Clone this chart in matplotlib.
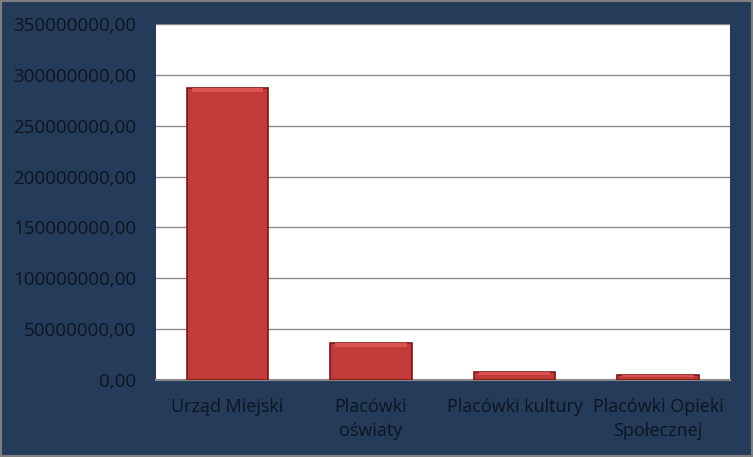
import matplotlib.pyplot as plt
from matplotlib.ticker import FuncFormatter
from matplotlib.patches import Rectangle

categories = ['Urząd Miejski', 'Placówki\noświaty', 'Placówki kultury', 'Placówki Opieki\nSpołecznej']
values = [287000000, 36500000, 8200000, 5200000]
yticks = [0, 50000000, 100000000, 150000000, 200000000, 250000000, 300000000, 350000000]

bg = '#243b5a'
txt = '#0d1520'

fig = plt.figure(figsize=(7.53, 4.57), dpi=100, facecolor=bg)
ax = fig.add_axes([0.207, 0.168, 0.762, 0.78])
ax.set_facecolor('white')

x = range(len(categories))
ax.bar(x, values, width=0.57, color='#c23b3a', edgecolor='#7a1717', linewidth=1.2, zorder=3)
# lighter top bevel
bevel = [min(4000000, v * 0.35) for v in values]
ax.bar(x, bevel, bottom=[v - b for v, b in zip(values, bevel)],
       width=0.5, color='#dc5253', linewidth=0, zorder=4)

ax.set_xlim(-0.5, len(categories) - 0.5)
ax.set_ylim(0, 350000000)
ax.set_yticks(yticks)
ax.yaxis.set_major_formatter(FuncFormatter(lambda v, p: f'{int(v)},00'))
ax.grid(axis='y', color='#8a8a8a', linewidth=1, zorder=0)
ax.set_xticks(list(x))
ax.set_xticklabels(categories, fontsize=13, color=txt, family='Open Sans', linespacing=1.4)
for lab in ax.get_yticklabels():
    lab.set_fontsize(13.5)
    lab.set_color(txt)
    lab.set_family('Open Sans')
ax.tick_params(axis='both', length=0)
ax.tick_params(axis='y', pad=14)
ax.tick_params(axis='x', pad=13)
for side in ['top', 'right', 'left']:
    ax.spines[side].set_visible(False)
ax.spines['bottom'].set_color('#8a8a8a')
ax.spines['bottom'].set_linewidth(1.5)

# grey outer frame
fig.patches.append(Rectangle((0, 0), 1, 1, transform=fig.transFigure, fill=False,
                             edgecolor='#7f7f7f', linewidth=3))

fig.savefig('out.png', dpi=100, facecolor=bg)
